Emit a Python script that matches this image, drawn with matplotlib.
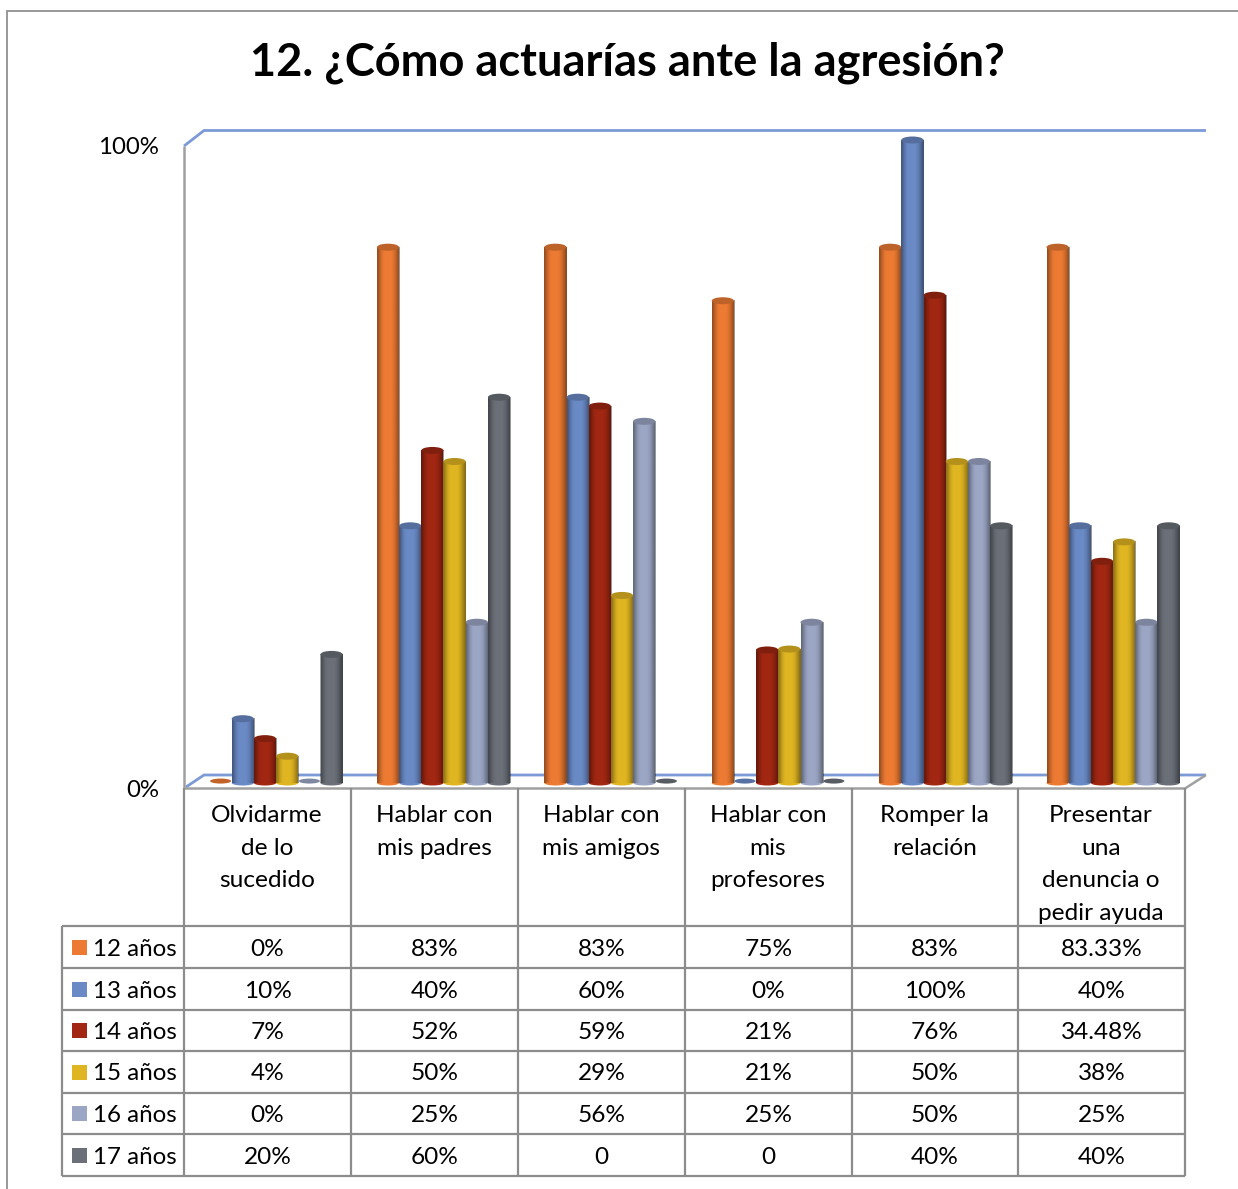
import numpy as np
import matplotlib
matplotlib.use("Agg")
import matplotlib.pyplot as plt
from matplotlib.patches import Ellipse, Rectangle
from matplotlib.colors import to_rgb

plt.rcParams['font.family'] = ['Lato', 'DejaVu Sans']

title = "12. ¿Cómo actuarías ante la agresión?"
categories = ["Olvidarme\nde lo\nsucedido", "Hablar con\nmis padres", "Hablar con\nmis amigos",
              "Hablar con\nmis\nprofesores", "Romper la\nrelación", "Presentar\nuna\ndenuncia o\npedir ayuda"]
series_names = ["12 años", "13 años", "14 años", "15 años", "16 años", "17 años"]
colors = ["#EC7A32", "#6A8AC6", "#A12712", "#E0B522", "#9BA6C4", "#6A6F78"]
v12 = [0, 83.33, 83.33, 75, 83.33, 83.33]
v13 = [10, 40, 60, 0, 100, 40]
v14 = [6.9, 51.72, 58.62, 20.69, 75.86, 34.48]
v15 = [4.17, 50, 29.17, 20.83, 50, 37.5]
v16 = [0, 25, 56.25, 25, 50, 25]
v17 = [20, 60, 0, 0, 40, 40]
l12 = ["0%", "83%", "83%", "75%", "83%", "83.33%"]
l13 = ["10%", "40%", "60%", "0%", "100%", "40%"]
l14 = ["7%", "52%", "59%", "21%", "76%", "34.48%"]
l15 = ["4%", "50%", "29%", "21%", "50%", "38%"]
l16 = ["0%", "25%", "56%", "25%", "50%", "25%"]
l17 = ["20%", "60%", "0", "0", "40%", "40%"]
series = [v12, v13, v14, v15, v16, v17]
labels = [l12, l13, l14, l15, l16, l17]

W, H = 1238, 1189
fig = plt.figure(figsize=(W / 100, H / 100), dpi=100, facecolor="white")

# pixel overlay for frame and table
bg = fig.add_axes([0, 0, 1, 1], zorder=0)
bg.set_xlim(0, W)
bg.set_ylim(H, 0)
bg.axis("off")

GRID = "#8C8C8C"
BLUE = "#7C9AD6"
def line(xs, ys, c=GRID, lw=1.6):
    bg.plot(xs, ys, color=c, lw=lw, solid_capstyle="butt", solid_joinstyle="miter")

line([6.5, 6.5, W], [H, 11, 11], c="#909090", lw=1.3)
# 3D back frame
line([184, 204, 1206], [146, 130.5, 130.5], c=BLUE, lw=2)
line([186, 204, 1206], [787, 775, 775], c=BLUE, lw=2)
line([184, 184], [146, 788], c="#A0A0A0", lw=1.8)
line([184, 1185, 1206], [788.5, 788.5, 775], c="#A0A0A0", lw=1.8)

col_x = [184, 351, 518, 685, 852, 1018, 1185]
row_y = [926, 968, 1010, 1051, 1093, 1134, 1176]
for x in col_x:
    line([x, x], [788, 1176])
for y in row_y:
    line([62, 1185], [y, y])
line([62, 62], [926, 1176])

FS = 17.6
bg.text(627.5, 76, title, ha="center", va="baseline", fontsize=32.5, fontweight="bold", color="black")
bg.text(159, 154, "100%", ha="right", va="baseline", fontsize=FS - 0.3)
bg.text(159, 797, "0%", ha="right", va="baseline", fontsize=FS - 0.3)

cat_line_y = [822, 855, 887, 920]
for i, cat in enumerate(categories):
    cx = (col_x[i] + col_x[i + 1]) / 2 - 0.5
    for ln, y in zip(cat.split("\n"), cat_line_y):
        bg.text(cx, y, ln, ha="center", va="baseline", fontsize=FS)

for r, (name, col, lab) in enumerate(zip(series_names, colors, labels)):
    yc = (row_y[r] + row_y[r + 1]) / 2
    bg.add_patch(Rectangle((72, yc - 7.5), 15, 15, facecolor=col, edgecolor="none"))
    bg.text(93, yc + 8.5, name, ha="left", va="baseline", fontsize=FS - 0.2)
    for i, s in enumerate(lab):
        cx = (col_x[i] + col_x[i + 1]) / 2
        bg.text(cx, yc + 8.5, s, ha="center", va="baseline", fontsize=FS)

# bars
left, right, bottom, top = 192.4, 1196.8, 783, 140
ax = fig.add_axes([left / W, 1 - bottom / H, (right - left) / W, (bottom - top) / H], zorder=1)
ax.patch.set_alpha(0)
ax.axis("off")
XLIM = (-0.5, 5.5)
YLIM = (0, 100)
px_x = (XLIM[1] - XLIM[0]) / (right - left)
px_y = 100 / (bottom - top)
bw = 22.2 * px_x

shade = np.array([0.36, 0.25, 0.14, 0.06, 0.01, 0, 0, 0, 0, 0.01, 0.05, 0.11, 0.2, 0.3, 0.4]).reshape(1, -1)
rgba = np.zeros((1, shade.shape[1], 4))
rgba[..., 3] = shade

for s, (vals, col) in enumerate(zip(series, colors)):
    rgb = np.array(to_rgb(col))
    xs = np.arange(6) + (s - 2.5) * bw
    ax.bar(xs, vals, width=bw, color=col, linewidth=0, zorder=2 + s)
    for x, v in zip(xs, vals):
        z = 2 + s
        if v > 0:
            ax.add_patch(Ellipse((x, 0), bw, 5 * px_y, facecolor=col, edgecolor="none", zorder=z, clip_on=False))
            ax.imshow(rgba, extent=(x - bw / 2, x + bw / 2, 0, v), aspect="auto",
                      interpolation="bilinear", zorder=z + 0.1, clip_on=False)
            ax.add_patch(Ellipse((x, v), bw, 7 * px_y, facecolor=rgb * 0.8, edgecolor="none",
                                 zorder=z + 0.2, clip_on=False))
        else:
            ax.add_patch(Ellipse((x, 0.3), bw * 0.95, 5 * px_y, facecolor=rgb * 0.82, edgecolor="none",
                                 zorder=z, clip_on=False))
ax.set_xlim(*XLIM)
ax.set_ylim(*YLIM)

fig.savefig("out.png", dpi=100)
